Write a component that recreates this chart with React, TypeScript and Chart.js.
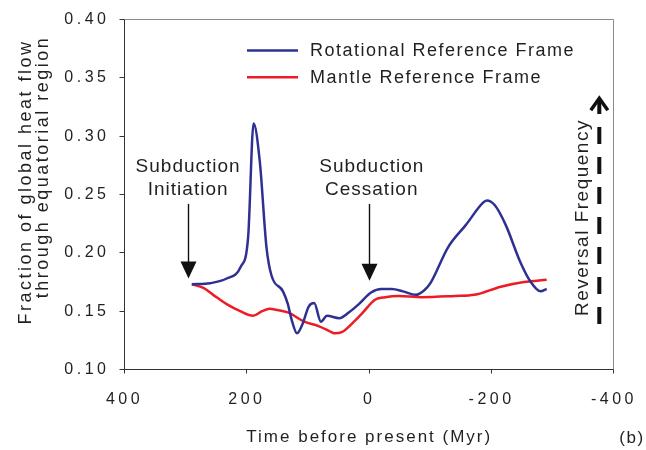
import { useEffect, useRef } from 'react';
import { Chart, registerables } from 'chart.js';

Chart.register(...registerables);

// ---- data (time before present in Myr, fraction of heat flow) ----
const rotationalTime = [290, 260, 233, 210, 198, 189, 179, 168, 160, 141, 133, 127, 118, 109, 99, 90, 79, 69, 49, 33, 17, -3, -20, -37, -55, -76, -90, -100, -129, -158, -186, -192, -205, -223, -247, -264, -280, -290];
const rotationalValues = [0.173, 0.174, 0.178, 0.188, 0.213, 0.311, 0.279, 0.205, 0.181, 0.167, 0.156, 0.143, 0.131, 0.139, 0.154, 0.157, 0.141, 0.146, 0.144, 0.149, 0.156, 0.166, 0.169, 0.169, 0.167, 0.164, 0.168, 0.174, 0.205, 0.224, 0.243, 0.245, 0.241, 0.224, 0.192, 0.175, 0.167, 0.169];

const mantleTime = [290, 271, 255, 233, 211, 190, 175, 163, 150, 133, 106, 82, 65, 57, 45, 25, 12, -10, -26, -48, -85, -140, -172, -215, -253, -290];
const mantleValues = [0.173, 0.170, 0.164, 0.156, 0.150, 0.146, 0.150, 0.152, 0.151, 0.149, 0.141, 0.137, 0.133, 0.131, 0.132, 0.141, 0.148, 0.160, 0.162, 0.163, 0.162, 0.163, 0.164, 0.171, 0.175, 0.177];

const seriesLabels = ['Rotational Reference Frame', 'Mantle Reference Frame'];
const xTitle = 'Time before present (Myr)';
const yTitleLines = ['Fraction of global heat flow', 'through equatorial region'];
const xTickValues = [400, 200, 0, -200, -400];
const yTickValues = [0.10, 0.15, 0.20, 0.25, 0.30, 0.35, 0.40];

// annotations (anchored in data units)
const initiationLines = ['Subduction', 'Initiation'];
const cessationLines = ['Subduction', 'Cessation'];
const arrowTimes = [296, 0];
const arrowTipValues = [0.178, 0.176];
const arrowTopValue = 0.242;
const reversalLabel = 'Reversal Frequency';
const reversalTime = -376;
const reversalRange = [0.139, 0.3335];
const panelLabel = '(b)';

const BLUE = '#2e3192';
const RED = '#ed1c24';
const TEXT = '#231f20';
const FONT = '"Liberation Sans", Arial, Helvetica, sans-serif';

const annotationPlugin = {
  id: 'annotations',
  afterLayout(chart: any) {
    const xs = chart.scales.x;
    if (xs && !xs.__wrapped) {
      const orig = xs.drawTitle;
      xs.drawTitle = function (...args: any[]) {
        const c = this.ctx;
        const prev = c.letterSpacing;
        c.letterSpacing = '2px';
        orig.apply(this, args);
        c.letterSpacing = prev;
      };
      xs.__wrapped = true;
    }
  },
  beforeDraw(chart: any) {
    chart.ctx.letterSpacing = '3.5px';
  },
  afterDraw(chart: any) {
    const { ctx, chartArea: a, scales } = chart;
    const xs = scales.x;
    const ys = scales.y;
    ctx.save();

    // top & right frame
    ctx.strokeStyle = '#8a8a8a';
    ctx.lineWidth = 1;
    ctx.beginPath();
    ctx.moveTo(a.left, Math.round(a.top) - 0.5);
    ctx.lineTo(Math.round(a.right) - 0.5, Math.round(a.top) - 0.5);
    ctx.lineTo(Math.round(a.right) - 0.5, a.bottom);
    ctx.stroke();

    // subduction arrows
    ctx.fillStyle = '#111';
    ctx.strokeStyle = '#111';
    arrowTimes.forEach((t, i) => {
      const px = Math.round(xs.getPixelForValue(t)) + 0.5;
      const tip = ys.getPixelForValue(arrowTipValues[i]);
      const top = ys.getPixelForValue(arrowTopValue);
      ctx.lineWidth = 1.4;
      ctx.beginPath();
      ctx.moveTo(px, top);
      ctx.lineTo(px, tip - 12);
      ctx.stroke();
      ctx.beginPath();
      ctx.moveTo(px - 8, tip - 17);
      ctx.lineTo(px + 8, tip - 17);
      ctx.lineTo(px, tip);
      ctx.closePath();
      ctx.fill();
    });

    // subduction text
    ctx.fillStyle = TEXT;
    ctx.font = `19px ${FONT}`;
    ctx.letterSpacing = '1px';
    ctx.textAlign = 'center';
    ctx.textBaseline = 'alphabetic';
    const topL = ys.getPixelForValue(arrowTopValue);
    const lx = xs.getPixelForValue(arrowTimes[0]);
    const rx = xs.getPixelForValue(arrowTimes[1]);
    initiationLines.forEach((s, i) => ctx.fillText(s, lx, topL - 31.5 + i * 23));
    cessationLines.forEach((s, i) => ctx.fillText(s, rx + 2.5, topL - 31.5 + i * 23));

    // reversal frequency dashed arrow
    const vx = xs.getPixelForValue(reversalTime);
    const vb = ys.getPixelForValue(reversalRange[0]);
    const vt = ys.getPixelForValue(reversalRange[1]);
    ctx.strokeStyle = '#111';
    ctx.lineWidth = 4;
    ctx.setLineDash([17, 13]);
    ctx.beginPath();
    ctx.moveTo(vx, vb);
    ctx.lineTo(vx, vt + 2);
    ctx.stroke();
    ctx.setLineDash([]);
    ctx.lineWidth = 3.5;
    ctx.lineJoin = 'miter';
    ctx.beginPath();
    ctx.moveTo(vx - 8.5, vt + 13);
    ctx.lineTo(vx, vt + 1);
    ctx.lineTo(vx + 8.5, vt + 13);
    ctx.stroke();

    // reversal frequency label
    ctx.save();
    ctx.translate(vx - 17, (vb + vt) / 2 + 7);
    ctx.rotate(-Math.PI / 2);
    ctx.fillStyle = TEXT;
    ctx.font = `19px ${FONT}`;
    ctx.letterSpacing = '1.5px';
    ctx.textAlign = 'center';
    ctx.textBaseline = 'middle';
    ctx.fillText(reversalLabel, 0, 0);
    ctx.restore();

    // legend
    const ds = chart.data.datasets;
    ctx.font = `18px ${FONT}`;
    ctx.letterSpacing = '1.5px';
    ctx.textAlign = 'left';
    ctx.textBaseline = 'middle';
    ds.forEach((d: any, i: number) => {
      const ly = 50.5 + i * 26.7;
      ctx.strokeStyle = d.borderColor;
      ctx.lineWidth = 2.5;
      ctx.beginPath();
      ctx.moveTo(247, ly);
      ctx.lineTo(298, ly);
      ctx.stroke();
      ctx.fillStyle = TEXT;
      ctx.fillText(d.label, 310, ly + 0.5);
    });

    // y title (two lines, rotated)
    ctx.font = `18px ${FONT}`;
    ctx.letterSpacing = '2.5px';
    ctx.textAlign = 'center';
    ctx.textBaseline = 'middle';
    const yCenters = [182, 167];
    yTitleLines.forEach((s, i) => {
      ctx.save();
      ctx.translate(26 + i * 17, yCenters[i]);
      ctx.rotate(-Math.PI / 2);
      ctx.fillText(s, 0, 0);
      ctx.restore();
    });

    // panel label
    ctx.font = `17px ${FONT}`;
    ctx.letterSpacing = '1.5px';
    ctx.textAlign = 'center';
    ctx.fillText(panelLabel, 632, 438);

    ctx.restore();
  },
};

export default function App() {
  const ref = useRef<HTMLCanvasElement>(null);

  useEffect(() => {
    const canvas = ref.current;
    if (!canvas) return;
    const chart = new Chart(canvas, {
      type: 'line',
      data: {
        datasets: [
          {
            label: seriesLabels[0],
            data: rotationalTime.map((t, i) => ({ x: t, y: rotationalValues[i] })),
            borderColor: BLUE,
            backgroundColor: BLUE,
            borderWidth: 2.5,
            pointRadius: 0,
            cubicInterpolationMode: 'monotone',
            fill: false,
          },
          {
            label: seriesLabels[1],
            data: mantleTime.map((t, i) => ({ x: t, y: mantleValues[i] })),
            borderColor: RED,
            backgroundColor: RED,
            borderWidth: 2.5,
            pointRadius: 0,
            cubicInterpolationMode: 'monotone',
            fill: false,
          },
        ],
      },
      options: {
        animation: false,
        responsive: false,
        devicePixelRatio: 1,
        layout: { padding: { left: 0, top: 14.5, right: 646 - 617.5, bottom: 0 } },
        plugins: {
          legend: { display: false },
          tooltip: { enabled: false },
        },
        scales: {
          x: {
            type: 'linear',
            reverse: true,
            min: xTickValues[xTickValues.length - 1],
            max: xTickValues[0],
            afterBuildTicks: (s: any) => {
              s.ticks = xTickValues.map((v) => ({ value: v }));
            },
            ticks: {
              color: TEXT,
              font: { family: FONT, size: 16 },
              padding: 16,
              maxRotation: 0,
              autoSkip: false,
              callback: (v: any) => String(v),
            },
            grid: { drawOnChartArea: false, drawTicks: true, tickLength: 4, color: '#333' },
            border: { color: '#333', width: 1 },
            title: {
              display: true,
              text: xTitle,
              color: TEXT,
              font: { family: FONT, size: 17 },
              padding: { top: 0, bottom: 2 },
            },
            afterFit: (s: any) => {
              s.height = 80.5;
            },
          },
          y: {
            type: 'linear',
            min: yTickValues[0],
            max: yTickValues[yTickValues.length - 1],
            afterBuildTicks: (s: any) => {
              s.ticks = yTickValues.map((v) => ({ value: v }));
            },
            ticks: {
              color: TEXT,
              font: { family: FONT, size: 16 },
              padding: 10,
              autoSkip: false,
              callback: (v: any) => Number(v).toFixed(2),
            },
            grid: { drawOnChartArea: false, drawTicks: true, tickLength: 5, color: '#333' },
            border: { color: '#333', width: 1 },
            afterFit: (s: any) => {
              s.width = 124.5;
            },
          },
        },
      },
      plugins: [annotationPlugin],
    } as any);
    return () => chart.destroy();
  }, []);

  return (
    <div style={{ position: 'fixed', left: 0, top: 0, width: 646, height: 450, background: '#fff' }}>
      <canvas ref={ref} width={646} height={450} style={{ display: 'block', width: 646, height: 450 }} />
    </div>
  );
}
